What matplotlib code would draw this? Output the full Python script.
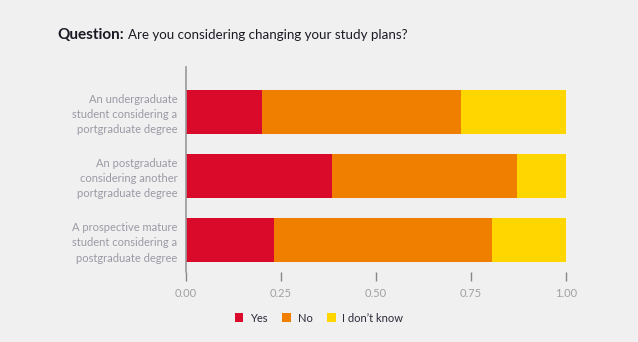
import numpy as np
import matplotlib
matplotlib.use("Agg")
import matplotlib.pyplot as plt

categories = [
    "An undergraduate\nstudent considering a\nportgraduate degree",
    "An postgraduate\nconsidering another\nportgraduate degree",
    "A prospective mature\nstudent considering a\npostgraduate degree",
]
yes = [0.20, 0.385, 0.233]
no = [0.525, 0.486, 0.573]
dont_know = [0.275, 0.129, 0.194]
series_names = ["Yes", "No", "I don\u2019t know"]
colors = ["#d90a2a", "#f07f00", "#ffd600"]
xticks = [0.0, 0.25, 0.5, 0.75, 1.0]

plt.rcParams["font.family"] = ["Lato", "DejaVu Sans"]
bg = "#f0f0f0"

fig = plt.figure(figsize=(6.38, 3.42), dpi=100, facecolor=bg)
ax = fig.add_axes([185.5 / 638, 1 - 272 / 342, 380.5 / 638, 205 / 342])
ax.set_facecolor(bg)

y = np.arange(len(categories))[::-1]
left = np.zeros(len(categories))
for vals, name, c in zip([yes, no, dont_know], series_names, colors):
    ax.barh(y, vals, left=left, height=0.68, color=c, label=name)
    left += np.array(vals)

ax.set_xlim(0, 1)
ax.set_ylim(-0.5, 2.7)
ax.set_yticks(y)
ax.set_yticklabels(categories, fontsize=8, color="#9a9aa6", linespacing=1.45)
ax.set_xticks(xticks)
ax.set_xticklabels([f"{t:.2f}" for t in xticks], fontsize=8, color="#a0a0a0")
ax.tick_params(axis="y", length=0, pad=6)
ax.tick_params(axis="x", length=6.5, color="#888888", width=1, pad=5)
for s in ["top", "right", "bottom"]:
    ax.spines[s].set_visible(False)
ax.spines["left"].set_color("#999999")
ax.spines["left"].set_linewidth(1.2)

leg = fig.legend(loc="center", bbox_to_anchor=(0.5, 0.07), ncol=3, frameon=False,
                 fontsize=8, handlelength=0.8, handleheight=0.8, columnspacing=1.3,
                 handletextpad=0.6)
for t in leg.get_texts():
    t.set_color("#2a2a3a")

# title: bold lead-in then regular text
t1 = fig.text(57 / 638, 1 - 35 / 342, "Question:", fontsize=11, fontweight="bold",
              color="#1a1a24", va="center", ha="left")
fig.canvas.draw()
bb = t1.get_window_extent()
fig.text((bb.x1 + 4) / 638, 1 - 35 / 342, "Are you considering changing your study plans?",
         fontsize=9.6, color="#1a1a24", va="center", ha="left")

fig.savefig("out.png", dpi=100, facecolor=bg)
